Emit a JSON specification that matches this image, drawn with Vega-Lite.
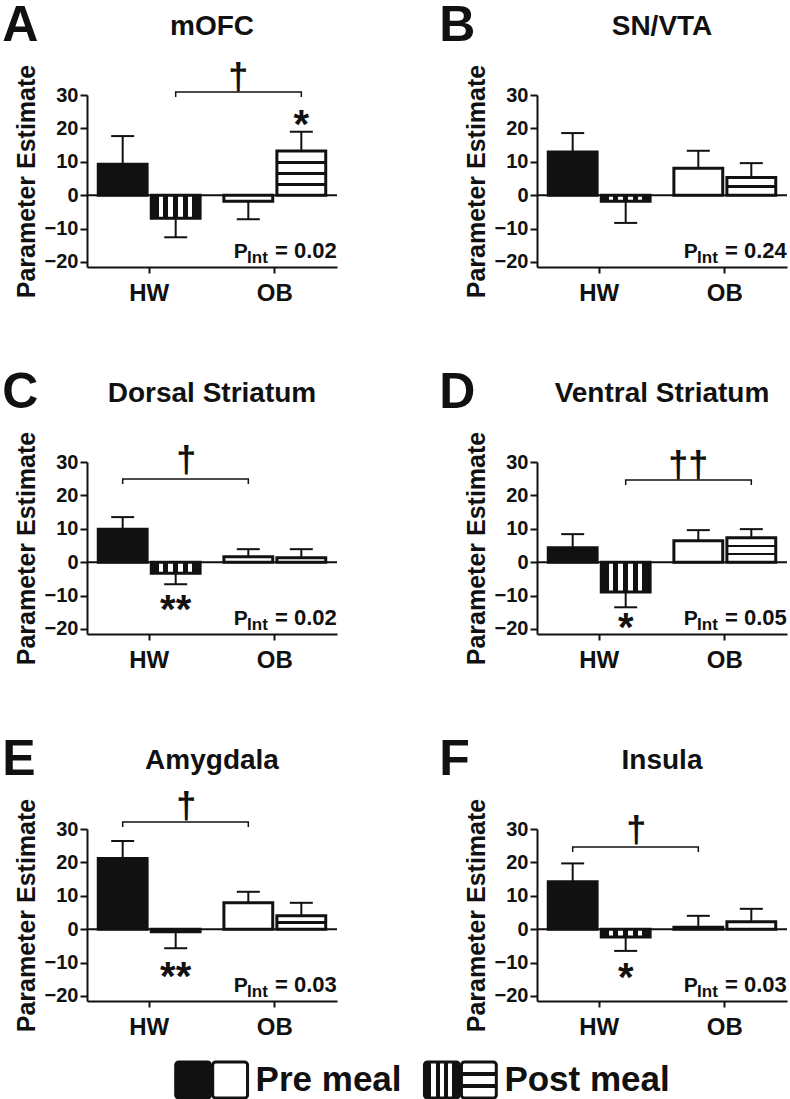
{
  "$schema": "https://vega.github.io/schema/vega-lite/v6.json",
  "background": "white",
  "padding": {"left": 2, "top": 0, "right": 0, "bottom": 0},
  "config": {
    "font": "Liberation Sans",
    "view": {"stroke": null},
    "axis": {"labelFont": "Liberation Sans", "titleFont": "Liberation Sans", "labelFontWeight": "bold", "titleFontWeight": "bold", "labelColor": "#111", "titleColor": "#111", "domainColor": "#111", "tickColor": "#111", "domainWidth": 2, "tickWidth": 2, "grid": false},
    "axisX": {"labelFontSize": 24, "labelAngle": 0, "tickSize": 6, "labelPadding": 8},
    "axisY": {"labelFontSize": 20, "titleFontSize": 25, "tickSize": 7, "labelPadding": 2, "titlePadding": 5}
  },
  "datasets": {
    "main": [
      {"kind": "letter", "region": "mOFC", "label": "A"},
      {"kind": "letter", "region": "SN/VTA", "label": "B"},
      {"kind": "letter", "region": "Dorsal Striatum", "label": "C"},
      {"kind": "letter", "region": "Ventral Striatum", "label": "D"},
      {"kind": "letter", "region": "Amygdala", "label": "E"},
      {"kind": "letter", "region": "Insula", "label": "F"},
      {"kind": "pint", "region": "mOFC", "label": "= 0.02"},
      {"kind": "pint", "region": "SN/VTA", "label": "= 0.24"},
      {"kind": "pint", "region": "Dorsal Striatum", "label": "= 0.02"},
      {"kind": "pint", "region": "Ventral Striatum", "label": "= 0.05"},
      {"kind": "pint", "region": "Amygdala", "label": "= 0.03"},
      {"kind": "pint", "region": "Insula", "label": "= 0.03"},
      {"kind": "bar", "region": "mOFC", "group": "HW", "meal": "pre", "mean": 9.3, "cap": 17.7},
      {"kind": "bar", "region": "mOFC", "group": "HW", "meal": "post", "mean": -6.9, "cap": -12.6},
      {"kind": "bar", "region": "mOFC", "group": "OB", "meal": "pre", "mean": -1.8, "cap": -7.2},
      {"kind": "bar", "region": "mOFC", "group": "OB", "meal": "post", "mean": 13.2, "cap": 19.0},
      {"kind": "bar", "region": "SN/VTA", "group": "HW", "meal": "pre", "mean": 12.9, "cap": 18.6},
      {"kind": "bar", "region": "SN/VTA", "group": "HW", "meal": "post", "mean": -1.8, "cap": -8.3},
      {"kind": "bar", "region": "SN/VTA", "group": "OB", "meal": "pre", "mean": 8.1, "cap": 13.3},
      {"kind": "bar", "region": "SN/VTA", "group": "OB", "meal": "post", "mean": 5.3, "cap": 9.6},
      {"kind": "bar", "region": "Dorsal Striatum", "group": "HW", "meal": "pre", "mean": 9.9, "cap": 13.5},
      {"kind": "bar", "region": "Dorsal Striatum", "group": "HW", "meal": "post", "mean": -3.3, "cap": -6.6},
      {"kind": "bar", "region": "Dorsal Striatum", "group": "OB", "meal": "pre", "mean": 1.6, "cap": 3.9},
      {"kind": "bar", "region": "Dorsal Striatum", "group": "OB", "meal": "post", "mean": 1.3, "cap": 3.9},
      {"kind": "bar", "region": "Ventral Striatum", "group": "HW", "meal": "pre", "mean": 4.3, "cap": 8.4},
      {"kind": "bar", "region": "Ventral Striatum", "group": "HW", "meal": "post", "mean": -8.9, "cap": -13.5},
      {"kind": "bar", "region": "Ventral Striatum", "group": "OB", "meal": "pre", "mean": 6.4, "cap": 9.6},
      {"kind": "bar", "region": "Ventral Striatum", "group": "OB", "meal": "post", "mean": 7.3, "cap": 9.9},
      {"kind": "bar", "region": "Amygdala", "group": "HW", "meal": "pre", "mean": 21.2, "cap": 26.4},
      {"kind": "bar", "region": "Amygdala", "group": "HW", "meal": "post", "mean": -0.8, "cap": -5.7},
      {"kind": "bar", "region": "Amygdala", "group": "OB", "meal": "pre", "mean": 7.9, "cap": 11.2},
      {"kind": "bar", "region": "Amygdala", "group": "OB", "meal": "post", "mean": 4.0, "cap": 7.9},
      {"kind": "bar", "region": "Insula", "group": "HW", "meal": "pre", "mean": 14.2, "cap": 19.7},
      {"kind": "bar", "region": "Insula", "group": "HW", "meal": "post", "mean": -2.3, "cap": -6.5},
      {"kind": "bar", "region": "Insula", "group": "OB", "meal": "pre", "mean": 0.6, "cap": 4.0},
      {"kind": "bar", "region": "Insula", "group": "OB", "meal": "post", "mean": 2.2, "cap": 6.1},
      {"kind": "bracket", "region": "mOFC", "group": "HW", "meal": "post", "y": 29.4, "ord": 1},
      {"kind": "bracket", "region": "mOFC", "group": "HW", "meal": "post", "y": 30.9, "ord": 2},
      {"kind": "bracket", "region": "mOFC", "group": "OB", "meal": "post", "y": 30.9, "ord": 3},
      {"kind": "bracket", "region": "mOFC", "group": "OB", "meal": "post", "y": 29.4, "ord": 4},
      {"kind": "bracket", "region": "Dorsal Striatum", "group": "HW", "meal": "pre", "y": 23.4, "ord": 1},
      {"kind": "bracket", "region": "Dorsal Striatum", "group": "HW", "meal": "pre", "y": 24.9, "ord": 2},
      {"kind": "bracket", "region": "Dorsal Striatum", "group": "OB", "meal": "pre", "y": 24.9, "ord": 3},
      {"kind": "bracket", "region": "Dorsal Striatum", "group": "OB", "meal": "pre", "y": 23.4, "ord": 4},
      {"kind": "bracket", "region": "Ventral Striatum", "group": "HW", "meal": "post", "y": 23.1, "ord": 1},
      {"kind": "bracket", "region": "Ventral Striatum", "group": "HW", "meal": "post", "y": 24.6, "ord": 2},
      {"kind": "bracket", "region": "Ventral Striatum", "group": "OB", "meal": "post", "y": 24.6, "ord": 3},
      {"kind": "bracket", "region": "Ventral Striatum", "group": "OB", "meal": "post", "y": 23.1, "ord": 4},
      {"kind": "bracket", "region": "Amygdala", "group": "HW", "meal": "pre", "y": 30.6, "ord": 1},
      {"kind": "bracket", "region": "Amygdala", "group": "HW", "meal": "pre", "y": 32.1, "ord": 2},
      {"kind": "bracket", "region": "Amygdala", "group": "OB", "meal": "pre", "y": 32.1, "ord": 3},
      {"kind": "bracket", "region": "Amygdala", "group": "OB", "meal": "pre", "y": 30.6, "ord": 4},
      {"kind": "bracket", "region": "Insula", "group": "HW", "meal": "pre", "y": 23.1, "ord": 1},
      {"kind": "bracket", "region": "Insula", "group": "HW", "meal": "pre", "y": 24.6, "ord": 2},
      {"kind": "bracket", "region": "Insula", "group": "OB", "meal": "pre", "y": 24.6, "ord": 3},
      {"kind": "bracket", "region": "Insula", "group": "OB", "meal": "pre", "y": 23.1, "ord": 4},
      {"kind": "dagger", "region": "mOFC", "meal": "post", "y": 35.0, "label": "†"},
      {"kind": "dagger", "region": "Dorsal Striatum", "meal": "pre", "y": 30.3, "label": "†"},
      {"kind": "dagger", "region": "Ventral Striatum", "meal": "post", "y": 28.8, "label": "††"},
      {"kind": "dagger", "region": "Amygdala", "meal": "pre", "y": 36.7, "label": "†"},
      {"kind": "dagger", "region": "Insula", "meal": "pre", "y": 29.4, "label": "†"},
      {"kind": "star", "region": "mOFC", "group": "OB", "meal": "post", "y": 23.0, "label": "*"},
      {"kind": "star", "region": "Dorsal Striatum", "group": "HW", "meal": "post", "y": -12.3, "label": "**"},
      {"kind": "star", "region": "Ventral Striatum", "group": "HW", "meal": "post", "y": -17.6, "label": "*"},
      {"kind": "star", "region": "Amygdala", "group": "HW", "meal": "post", "y": -12.1, "label": "**"},
      {"kind": "star", "region": "Insula", "group": "HW", "meal": "post", "y": -12.4, "label": "*"}
    ],
    "legend": [
      {"meal": "Pre", "group": "HW"},
      {"meal": "Pre", "group": "OB"},
      {"meal": "Post", "group": "HW"},
      {"meal": "Post", "group": "OB"},
      {"meal": "Pre", "label": "Pre meal"},
      {"meal": "Post", "label": "Post meal"}
    ]
  },
  "spacing": 21,
  "vconcat": [
    {
      "data": {"name": "main"},
      "facet": {
        "field": "region", "type": "nominal",
        "sort": ["mOFC", "SN/VTA", "Dorsal Striatum", "Ventral Striatum", "Amygdala", "Insula"],
        "header": {"title": null, "labelFont": "Liberation Sans", "labelFontSize": 28, "labelFontWeight": "bold", "labelColor": "#111", "labelPadding": -40}
      },
      "columns": 2,
      "spacing": {"row": 195, "column": 200},
      "bounds": "flush",
      "resolve": {"axis": {"x": "independent", "y": "independent"}},
      "spec": {
        "width": 250,
        "height": 172,
        "layer": [
          {
            "transform": [{"filter": "datum.kind === 'letter'"}],
            "mark": {"type": "rule", "strokeWidth": 2, "color": "#111"},
            "encoding": {"y": {"datum": 0, "type": "quantitative", "axis": {"title": "Parameter Estimate", "values": [-20, -10, 0, 10, 20, 30]}}}
          },
          {
            "transform": [{"filter": "datum.kind === 'bar' && datum.meal === 'pre'"}],
            "mark": {"type": "bar", "stroke": "#111", "strokeWidth": 3, "width": {"band": 0.48}, "xOffset": -26.5},
            "encoding": {
              "x": {"field": "group", "type": "nominal", "scale": {"type": "band", "domain": ["HW", "OB"], "paddingInner": 0.19, "paddingOuter": 0.09}, "axis": {"title": null}},
              "y": {"field": "mean", "type": "quantitative", "scale": {"domain": [-21.5, 30], "nice": false, "zero": false}, "axis": {"title": "Parameter Estimate", "values": [-20, -10, 0, 10, 20, 30]}},
              "fill": {"condition": {"test": "datum.group === 'HW'", "value": "#111"}, "value": "white"}
            }
          },
          {
            "transform": [{"filter": "datum.kind === 'bar' && datum.meal === 'post'"}],
            "mark": {"type": "bar", "stroke": "#111", "strokeWidth": 3, "width": {"band": 0.48}, "xOffset": 26.5},
            "encoding": {
              "x": {"field": "group", "type": "nominal", "axis": {"title": null}},
              "y": {"field": "mean", "type": "quantitative", "axis": {"title": "Parameter Estimate", "values": [-20, -10, 0, 10, 20, 30]}},
              "fill": {
                "condition": [
                  {"test": "datum.group === 'HW'", "value": {"gradient": "linear", "x1": 0, "y1": 0, "x2": 1, "y2": 0, "stops": [
                    {"offset": 0, "color": "#111"}, {"offset": 0.15, "color": "#111"}, {"offset": 0.15, "color": "white"}, {"offset": 0.24, "color": "white"},
                    {"offset": 0.24, "color": "#111"}, {"offset": 0.35, "color": "#111"}, {"offset": 0.35, "color": "white"}, {"offset": 0.44, "color": "white"},
                    {"offset": 0.44, "color": "#111"}, {"offset": 0.55, "color": "#111"}, {"offset": 0.55, "color": "white"}, {"offset": 0.64, "color": "white"},
                    {"offset": 0.64, "color": "#111"}, {"offset": 0.75, "color": "#111"}, {"offset": 0.75, "color": "white"}, {"offset": 0.84, "color": "white"},
                    {"offset": 0.84, "color": "#111"}, {"offset": 1, "color": "#111"}]}},
                  {"test": "datum.region === 'mOFC'", "value": {"gradient": "linear", "x1": 0, "y1": 0, "x2": 0, "y2": 1, "stops": [
                    {"offset": 0, "color": "white"}, {"offset": 0.215, "color": "white"}, {"offset": 0.215, "color": "#111"}, {"offset": 0.285, "color": "#111"},
                    {"offset": 0.285, "color": "white"}, {"offset": 0.465, "color": "white"}, {"offset": 0.465, "color": "#111"}, {"offset": 0.535, "color": "#111"},
                    {"offset": 0.535, "color": "white"}, {"offset": 0.715, "color": "white"}, {"offset": 0.715, "color": "#111"}, {"offset": 0.785, "color": "#111"},
                    {"offset": 0.785, "color": "white"}, {"offset": 1, "color": "white"}]}},
                  {"test": "datum.region === 'Ventral Striatum'", "value": {"gradient": "linear", "x1": 0, "y1": 0, "x2": 0, "y2": 1, "stops": [
                    {"offset": 0, "color": "white"}, {"offset": 0.28, "color": "white"}, {"offset": 0.28, "color": "#111"}, {"offset": 0.39, "color": "#111"},
                    {"offset": 0.39, "color": "white"}, {"offset": 0.61, "color": "white"}, {"offset": 0.61, "color": "#111"}, {"offset": 0.72, "color": "#111"},
                    {"offset": 0.72, "color": "white"}, {"offset": 1, "color": "white"}]}},
                  {"test": "datum.region === 'SN/VTA' || datum.region === 'Amygdala'", "value": {"gradient": "linear", "x1": 0, "y1": 0, "x2": 0, "y2": 1, "stops": [
                    {"offset": 0, "color": "white"}, {"offset": 0.42, "color": "white"}, {"offset": 0.42, "color": "#111"}, {"offset": 0.58, "color": "#111"},
                    {"offset": 0.58, "color": "white"}, {"offset": 1, "color": "white"}]}}
                ],
                "value": "white"
              }
            }
          },
          {
            "transform": [{"filter": "datum.kind === 'bar' && datum.meal === 'pre'"}],
            "mark": {"type": "rule", "strokeWidth": 2, "color": "#111", "xOffset": -26.5},
            "encoding": {
              "x": {"field": "group", "type": "nominal", "axis": {"title": null}},
              "y": {"field": "mean", "type": "quantitative", "axis": {"title": "Parameter Estimate", "values": [-20, -10, 0, 10, 20, 30]}},
              "y2": {"field": "cap"}
            }
          },
          {
            "transform": [{"filter": "datum.kind === 'bar' && datum.meal === 'post'"}],
            "mark": {"type": "rule", "strokeWidth": 2, "color": "#111", "xOffset": 26.5},
            "encoding": {
              "x": {"field": "group", "type": "nominal", "axis": {"title": null}},
              "y": {"field": "mean", "type": "quantitative", "axis": {"title": "Parameter Estimate", "values": [-20, -10, 0, 10, 20, 30]}},
              "y2": {"field": "cap"}
            }
          },
          {
            "transform": [{"filter": "datum.kind === 'bar' && datum.meal === 'pre'"}],
            "mark": {"type": "tick", "size": 23, "thickness": 2, "color": "#111", "opacity": 1, "xOffset": -26.5},
            "encoding": {
              "x": {"field": "group", "type": "nominal", "axis": {"title": null}},
              "y": {"field": "cap", "type": "quantitative", "axis": {"title": "Parameter Estimate", "values": [-20, -10, 0, 10, 20, 30]}}
            }
          },
          {
            "transform": [{"filter": "datum.kind === 'bar' && datum.meal === 'post'"}],
            "mark": {"type": "tick", "size": 23, "thickness": 2, "color": "#111", "opacity": 1, "xOffset": 26.5},
            "encoding": {
              "x": {"field": "group", "type": "nominal", "axis": {"title": null}},
              "y": {"field": "cap", "type": "quantitative", "axis": {"title": "Parameter Estimate", "values": [-20, -10, 0, 10, 20, 30]}}
            }
          },
          {
            "transform": [{"filter": "datum.kind === 'bracket' && datum.meal === 'pre'"}],
            "mark": {"type": "line", "strokeWidth": 1.5, "color": "#111", "xOffset": -26.5},
            "encoding": {
              "x": {"field": "group", "type": "nominal", "axis": {"title": null}},
              "y": {"field": "y", "type": "quantitative", "axis": {"title": "Parameter Estimate", "values": [-20, -10, 0, 10, 20, 30]}},
              "order": {"field": "ord", "type": "quantitative"}
            }
          },
          {
            "transform": [{"filter": "datum.kind === 'bracket' && datum.meal === 'post'"}],
            "mark": {"type": "line", "strokeWidth": 1.5, "color": "#111", "xOffset": 26.5},
            "encoding": {
              "x": {"field": "group", "type": "nominal", "axis": {"title": null}},
              "y": {"field": "y", "type": "quantitative", "axis": {"title": "Parameter Estimate", "values": [-20, -10, 0, 10, 20, 30]}},
              "order": {"field": "ord", "type": "quantitative"}
            }
          },
          {
            "transform": [{"filter": "datum.kind === 'dagger' && datum.meal === 'pre'"}],
            "mark": {"type": "text", "fontSize": 36, "fontWeight": "bold", "color": "#111", "baseline": "middle", "align": "center", "dx": 37},
            "encoding": {
              "x": {"datum": "HW", "axis": {"title": null}},
              "y": {"field": "y", "type": "quantitative", "axis": {"title": "Parameter Estimate", "values": [-20, -10, 0, 10, 20, 30]}},
              "text": {"field": "label"}
            }
          },
          {
            "transform": [{"filter": "datum.kind === 'dagger' && datum.meal === 'post'"}],
            "mark": {"type": "text", "fontSize": 36, "fontWeight": "bold", "color": "#111", "baseline": "middle", "align": "center", "dx": 89},
            "encoding": {
              "x": {"datum": "HW", "axis": {"title": null}},
              "y": {"field": "y", "type": "quantitative", "axis": {"title": "Parameter Estimate", "values": [-20, -10, 0, 10, 20, 30]}},
              "text": {"field": "label"}
            }
          },
          {
            "transform": [{"filter": "datum.kind === 'star'"}],
            "mark": {"type": "text", "fontSize": 40, "fontWeight": "bold", "color": "#111", "baseline": "alphabetic", "align": "center", "dy": 20, "xOffset": 26.5},
            "encoding": {
              "x": {"field": "group", "type": "nominal", "axis": {"title": null}},
              "y": {"field": "y", "type": "quantitative", "axis": {"title": "Parameter Estimate", "values": [-20, -10, 0, 10, 20, 30]}},
              "text": {"field": "label"}
            }
          },
          {
            "transform": [{"filter": "datum.kind === 'letter' && indexof(['mOFC', 'Dorsal Striatum', 'Amygdala'], datum.region) >= 0"}],
            "mark": {"type": "text", "fontSize": 50, "fontWeight": "bold", "color": "#111", "baseline": "alphabetic", "align": "left", "dx": -147},
            "encoding": {
              "x": {"datum": "HW", "axis": {"title": null}},
              "y": {"datum": 46.2, "axis": {"title": "Parameter Estimate", "values": [-20, -10, 0, 10, 20, 30]}},
              "text": {"field": "label"}
            }
          },
          {
            "transform": [{"filter": "datum.kind === 'letter' && indexof(['mOFC', 'Dorsal Striatum', 'Amygdala'], datum.region) < 0"}],
            "mark": {"type": "text", "fontSize": 50, "fontWeight": "bold", "color": "#111", "baseline": "alphabetic", "align": "left", "dx": -160},
            "encoding": {
              "x": {"datum": "HW", "axis": {"title": null}},
              "y": {"datum": 46.2, "axis": {"title": "Parameter Estimate", "values": [-20, -10, 0, 10, 20, 30]}},
              "text": {"field": "label"}
            }
          },
          {
            "transform": [{"filter": "datum.kind === 'pint'"}],
            "mark": {"type": "text", "fontSize": 21, "fontWeight": "bold", "color": "#111", "baseline": "alphabetic", "align": "right", "dx": -27},
            "encoding": {
              "x": {"datum": "OB", "axis": {"title": null}},
              "y": {"datum": -18.9, "axis": {"title": "Parameter Estimate", "values": [-20, -10, 0, 10, 20, 30]}},
              "text": {"value": "P"}
            }
          },
          {
            "transform": [{"filter": "datum.kind === 'pint'"}],
            "mark": {"type": "text", "fontSize": 17, "fontWeight": "bold", "color": "#111", "baseline": "alphabetic", "align": "right", "dx": -7, "dy": 5},
            "encoding": {
              "x": {"datum": "OB", "axis": {"title": null}},
              "y": {"datum": -18.9, "axis": {"title": "Parameter Estimate", "values": [-20, -10, 0, 10, 20, 30]}},
              "text": {"value": "Int"}
            }
          },
          {
            "transform": [{"filter": "datum.kind === 'pint'"}],
            "mark": {"type": "text", "fontSize": 22, "fontWeight": "bold", "color": "#111", "baseline": "alphabetic", "align": "right", "dx": 62},
            "encoding": {
              "x": {"datum": "OB", "axis": {"title": null}},
              "y": {"datum": -18.9, "axis": {"title": "Parameter Estimate", "values": [-20, -10, 0, 10, 20, 30]}},
              "text": {"field": "label"}
            }
          }
        ]
      }
    },
    {
      "data": {"name": "legend"},
      "width": 498,
      "height": 36,
      "layer": [
        {
          "transform": [{"filter": "datum.group === 'HW'"}],
          "mark": {"type": "bar", "stroke": "#111", "strokeWidth": 3, "cornerRadius": 3, "width": {"band": 0.47}, "xOffset": -18.5},
          "encoding": {
            "x": {"field": "meal", "type": "nominal", "scale": {"type": "band", "domain": ["Pre", "Post"], "paddingInner": 0.702, "paddingOuter": 0.352}, "axis": null},
            "fill": {
              "condition": {"test": "datum.meal === 'Pre'", "value": "#111"},
              "value": {"gradient": "linear", "x1": 0, "y1": 0, "x2": 1, "y2": 0, "stops": [
                {"offset": 0, "color": "#111"}, {"offset": 0.2, "color": "#111"}, {"offset": 0.2, "color": "white"}, {"offset": 0.33, "color": "white"},
                {"offset": 0.33, "color": "#111"}, {"offset": 0.44, "color": "#111"}, {"offset": 0.44, "color": "white"}, {"offset": 0.56, "color": "white"},
                {"offset": 0.56, "color": "#111"}, {"offset": 0.67, "color": "#111"}, {"offset": 0.67, "color": "white"}, {"offset": 0.8, "color": "white"},
                {"offset": 0.8, "color": "#111"}, {"offset": 1, "color": "#111"}]}
            }
          }
        },
        {
          "transform": [{"filter": "datum.group === 'OB'"}],
          "mark": {"type": "bar", "stroke": "#111", "strokeWidth": 3, "cornerRadius": 3, "width": {"band": 0.47}, "xOffset": 18.5},
          "encoding": {
            "x": {"field": "meal", "type": "nominal", "axis": null},
            "fill": {
              "condition": {"test": "datum.meal === 'Pre'", "value": "white"},
              "value": {"gradient": "linear", "x1": 0, "y1": 0, "x2": 0, "y2": 1, "stops": [
                {"offset": 0, "color": "white"}, {"offset": 0.28, "color": "white"}, {"offset": 0.28, "color": "#111"}, {"offset": 0.38, "color": "#111"},
                {"offset": 0.38, "color": "white"}, {"offset": 0.62, "color": "white"}, {"offset": 0.62, "color": "#111"}, {"offset": 0.72, "color": "#111"},
                {"offset": 0.72, "color": "white"}, {"offset": 1, "color": "white"}]}
            }
          }
        },
        {
          "transform": [{"filter": "datum.label"}],
          "mark": {"type": "text", "fontSize": 35, "fontWeight": "bold", "color": "#111", "align": "left", "baseline": "middle", "dx": 44},
          "encoding": {
            "x": {"field": "meal", "type": "nominal", "axis": null},
            "text": {"field": "label"}
          }
        }
      ]
    }
  ]
}
